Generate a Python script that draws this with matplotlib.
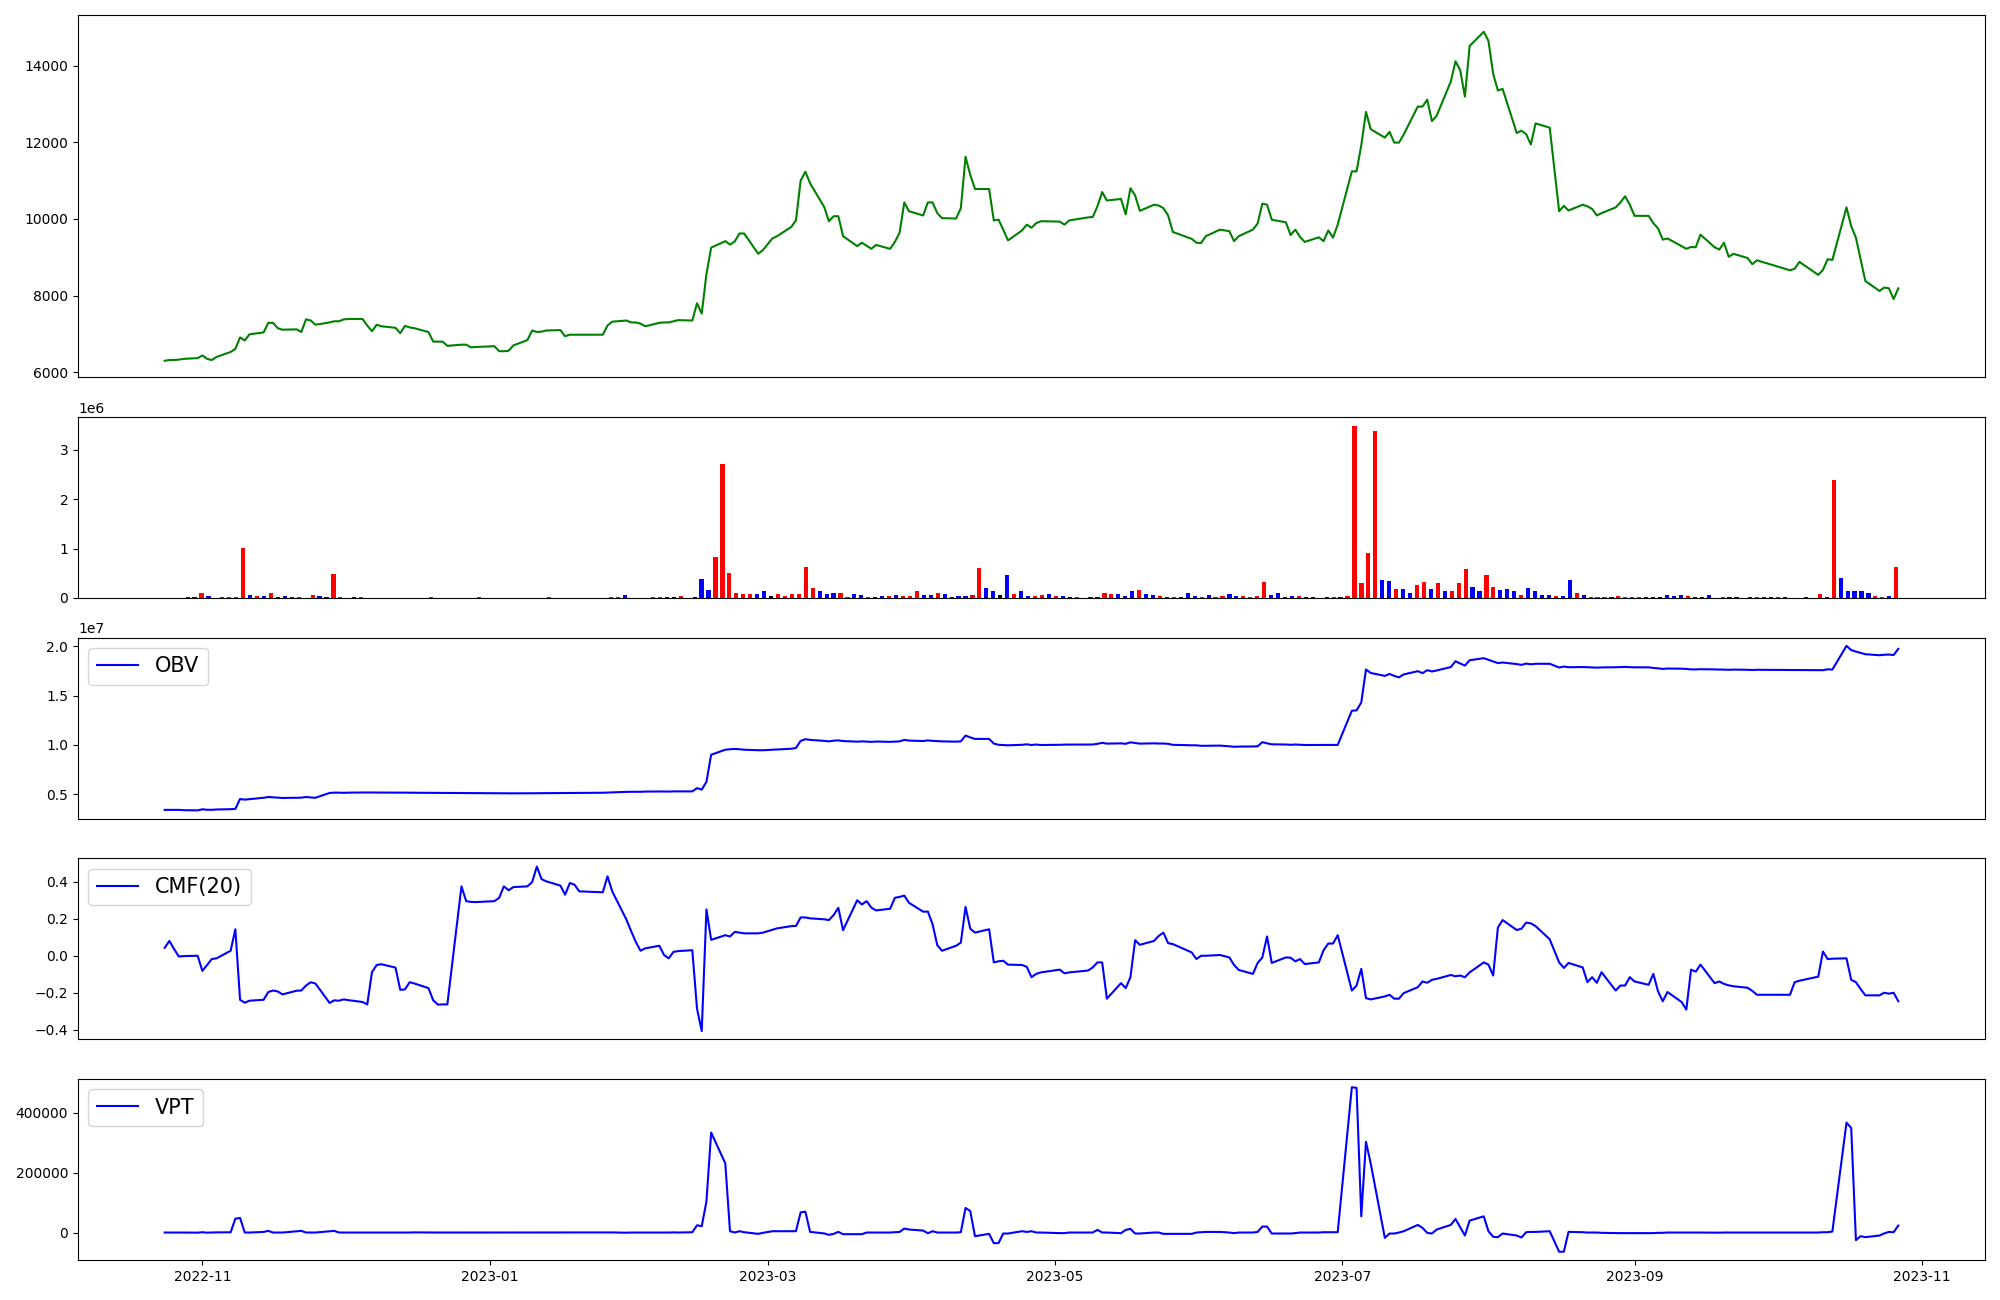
import numpy as np
import pandas as pd
import matplotlib
matplotlib.use("Agg")
import matplotlib.pyplot as plt

# Trading days (KRX calendar, Oct 2022 - Oct 2023)
holidays = ["2022-12-30", "2023-01-23", "2023-01-24", "2023-03-01", "2023-05-01",
            "2023-05-05", "2023-05-29", "2023-06-06", "2023-08-15", "2023-09-28",
            "2023-09-29", "2023-10-02", "2023-10-03", "2023-10-09"]
dates = pd.bdate_range("2022-10-24", "2023-10-27")
dates = dates[~dates.isin(pd.to_datetime(holidays))]

# Close price
close = [
    6300, 6320, 6320, 6330, 6350,
    6370, 6440, 6350, 6320, 6400,
    6530, 6610, 6910, 6830, 6990,
    7040, 7290, 7290, 7150, 7110,
    7120, 7050, 7380, 7350, 7240,
    7300, 7330, 7330, 7380, 7390,
    7390, 7220, 7070, 7240, 7200,
    7160, 7020, 7210, 7170, 7150,
    7050, 6800, 6800, 6800, 6690,
    6720, 6720, 6650, 6660,
    6680, 6550, 6550, 6560, 6700,
    6840, 7090, 7050, 7060, 7090,
    7100, 6940, 6980, 6980, 6980,
    6980, 7220, 7320,
    7350, 7300, 7300, 7270, 7200,
    7290, 7300, 7300, 7330, 7360,
    7350, 7800, 7530, 8560, 9250,
    9420, 9330, 9410, 9620, 9620,
    9090, 9190, 9490, 9550,
    9790, 9960, 11000, 11230, 10930,
    10310, 9940, 10070, 10070, 9550,
    9290, 9380, 9300, 9220, 9320,
    9220, 9400, 9640, 10430, 10200,
    10090, 10430, 10430, 10150, 10020,
    10010, 10280, 11620, 11150, 10780,
    10780, 9960, 9980, 9720, 9440,
    9700, 9850, 9770, 9890, 9940,
    9930, 9850, 9960,
    10040, 10050, 10330, 10700, 10480,
    10520, 10120, 10800, 10610, 10210,
    10370, 10350, 10280, 10090, 9660,
    9480, 9380, 9370, 9550,
    9720, 9680, 9420, 9550,
    9720, 9880, 10400, 10370, 9980,
    9910, 9580, 9720, 9530, 9400,
    9520, 9420, 9700, 9510, 9850,
    11240, 11240, 11920, 12790, 12340,
    12120, 12270, 11990, 11990, 12200,
    12930, 12930, 13110, 12550, 12690,
    13580, 14110, 13880, 13190, 14510,
    14880, 14640, 13780, 13350, 13390,
    12240, 12300, 12210, 11940, 12490,
    12380, 10200, 10340, 10220,
    10370, 10330, 10260, 10090, 10150,
    10300, 10430, 10590, 10370, 10080,
    10080, 9890, 9750, 9460, 9490,
    9290, 9220, 9270, 9260, 9590,
    9260, 9200, 9380, 9010, 9090,
    8980, 8820, 8920,
    8660, 8700, 8880,
    8540, 8670, 8950, 8930,
    10300, 9810, 9510, 8950, 8380,
    8120, 8210, 8190, 7910, 8190,
]

# Volume in millions of shares
volume_m = [
    0, 0, 0, 0, 0.027,
    0.027, 0.107, 0.047, 0, 0.027,
    0.027, 0.027, 1.01, 0.067, 0.047,
    0.047, 0.107, 0.027, 0.047, 0.027,
    0.027, 0, 0.067, 0.047, 0.027,
    0.49, 0.027, 0, 0.027, 0.027,
    0, 0, 0, 0, 0,
    0, 0, 0, 0, 0.027,
    0, 0, 0, 0, 0,
    0, 0.027, 0, 0,
    0, 0, 0, 0, 0,
    0, 0, 0.027, 0, 0,
    0, 0, 0, 0, 0,
    0, 0.027, 0.027,
    0.067, 0, 0, 0, 0.027,
    0.027, 0.027, 0.027, 0.047, 0,
    0.027, 0.39, 0.17, 0.83, 2.72,
    0.51, 0.107, 0.087, 0.087, 0.087,
    0.13, 0.047, 0.087, 0.047,
    0.087, 0.087, 0.63, 0.21, 0.13,
    0.087, 0.107, 0.107, 0.027, 0.087,
    0.067, 0.027, 0.027, 0.047, 0.047,
    0.067, 0.047, 0.047, 0.13, 0.067,
    0.067, 0.107, 0.087, 0.027, 0.047,
    0.047, 0.067, 0.61, 0.21, 0.15,
    0.067, 0.47, 0.087, 0.13, 0.047,
    0.047, 0.067, 0.087, 0.047, 0.047,
    0.027, 0.027, 0,
    0.027, 0.027, 0.107, 0.087, 0.087,
    0.047, 0.15, 0.17, 0.087, 0.067,
    0.047, 0.027, 0.027, 0.027, 0.107,
    0.047, 0.027, 0.067, 0.027,
    0.047, 0.087, 0.047, 0.047,
    0.027, 0.047, 0.33, 0.067, 0.107,
    0.027, 0.047, 0.047, 0.027, 0.027,
    0, 0.027, 0.027, 0.027, 0.047,
    3.49, 0.31, 0.91, 3.39, 0.37,
    0.35, 0.19, 0.19, 0.107, 0.27,
    0.33, 0.19, 0.31, 0.15, 0.13,
    0.31, 0.59, 0.23, 0.15, 0.47,
    0.23, 0.17, 0.19, 0.15, 0.067,
    0.21, 0.13, 0.067, 0.067, 0.047,
    0.047, 0.37, 0.107, 0.067,
    0.027, 0.027, 0.027, 0.027, 0.047,
    0.027, 0.027, 0.027, 0.027, 0.027,
    0.027, 0.067, 0.047, 0.067, 0.047,
    0.027, 0.027, 0.067, 0, 0.027,
    0.027, 0.027, 0, 0.027, 0.027,
    0.027, 0.027, 0.027,
    0.027, 0, 0,
    0.027, 0, 0.087, 0.027,
    2.38, 0.41, 0.15, 0.13, 0.15,
    0.107, 0.047, 0.027, 0.047, 0.63,
]

# Candle direction: 1 = up (red), -1 = down (blue), 0 = unchanged (black)
candle = [
    0, 0, 0, 0, -1,
    -1, 1, -1, 0, 1,
    1, 1, 1, -1, 1,
    -1, 1, -1, -1, -1,
    1, 0, 1, -1, -1,
    1, 1, 0, -1, 1,
    0, 0, 0, 0, 0,
    0, 0, 0, 0, 1,
    0, 0, 0, 0, 0,
    0, 1, 0, 0,
    0, 0, 0, 0, 0,
    0, 0, 1, 0, 0,
    0, 0, 0, 0, 0,
    0, 1, 1,
    -1, 0, 0, 0, 1,
    1, -1, 0, 1, 0,
    -1, -1, -1, 1, 1,
    1, 1, 1, 1, -1,
    -1, 0, 1, 1,
    1, 1, 1, 1, -1,
    -1, -1, 1, 1, -1,
    -1, 1, -1, -1, 1,
    -1, 1, 1, 1, -1,
    -1, 1, -1, -1, -1,
    -1, 1, 1, -1, -1,
    0, -1, 1, -1, -1,
    1, 1, -1, 1, -1,
    0, 1, 0,
    -1, -1, 1, 1, -1,
    -1, -1, 1, -1, -1,
    1, -1, 1, -1, -1,
    -1, 1, -1, 1,
    1, -1, -1, 1,
    1, 1, 1, -1, -1,
    -1, -1, 1, -1, -1,
    0, -1, 1, -1, 1,
    1, 1, 1, 1, -1,
    -1, 1, -1, -1, 1,
    1, -1, 1, -1, 1,
    1, 1, -1, -1, 1,
    1, -1, -1, -1, 1,
    -1, -1, -1, -1, 1,
    -1, -1, 1, -1,
    1, 1, 1, -1, 1,
    1, 1, 1, -1, -1,
    0, -1, -1, -1, 1,
    -1, -1, -1, 0, 1,
    -1, -1, 0, -1, 1,
    -1, -1, 1,
    -1, 0, 0,
    -1, 0, 1, -1,
    1, -1, -1, -1, -1,
    -1, 1, 1, -1, 1,
]

# On-balance volume (x 1e7)
obv_e7 = [
    0.339, 0.339, 0.339, 0.339, 0.336,
    0.334, 0.345, 0.340, 0.340, 0.343,
    0.346, 0.349, 0.450, 0.443, 0.448,
    0.462, 0.470, 0.467, 0.463, 0.460,
    0.463, 0.463, 0.470, 0.465, 0.462,
    0.511, 0.514, 0.514, 0.512, 0.514,
    0.516, 0.516, 0.515, 0.515, 0.515,
    0.514, 0.514, 0.514, 0.513, 0.513,
    0.512, 0.512, 0.511, 0.511, 0.510,
    0.510, 0.510, 0.509, 0.509,
    0.508, 0.508, 0.507, 0.507, 0.507,
    0.507, 0.508, 0.508, 0.509, 0.509,
    0.510, 0.510, 0.511, 0.511, 0.512,
    0.513, 0.515, 0.518,
    0.522, 0.523, 0.523, 0.523, 0.525,
    0.526, 0.525, 0.525, 0.527, 0.527,
    0.527, 0.560, 0.545, 0.624, 0.899,
    0.950, 0.955, 0.958, 0.955, 0.950,
    0.945, 0.945, 0.950, 0.953,
    0.960, 0.968, 1.040, 1.057, 1.050,
    1.040, 1.035, 1.042, 1.045, 1.038,
    1.032, 1.035, 1.033, 1.030, 1.033,
    1.030, 1.032, 1.035, 1.050, 1.043,
    1.038, 1.045, 1.040, 1.037, 1.035,
    1.032, 1.035, 1.094, 1.075, 1.060,
    1.060, 1.013, 1.000, 0.998, 0.995,
    1.000, 1.005, 0.998, 1.003, 0.998,
    1.000, 1.002, 1.002,
    1.002, 1.003, 1.010, 1.020, 1.012,
    1.015, 1.010, 1.025, 1.018, 1.012,
    1.015, 1.013, 1.013, 1.010, 1.000,
    0.995, 0.995, 0.990, 0.990,
    0.992, 0.985, 0.980, 0.982,
    0.983, 0.985, 1.027, 1.015, 1.005,
    1.003, 1.000, 1.003, 1.000, 0.998,
    0.998, 0.997, 0.998, 0.997, 0.999,
    1.346, 1.350, 1.430, 1.765, 1.730,
    1.700, 1.720, 1.700, 1.685, 1.715,
    1.748, 1.728, 1.758, 1.745, 1.755,
    1.790, 1.849, 1.826, 1.805, 1.859,
    1.880, 1.863, 1.845, 1.830, 1.836,
    1.820, 1.812, 1.825, 1.818, 1.823,
    1.823, 1.785, 1.795, 1.788,
    1.790, 1.788, 1.786, 1.784, 1.786,
    1.788, 1.790, 1.791, 1.789, 1.787,
    1.787, 1.781, 1.777, 1.771, 1.775,
    1.773, 1.771, 1.766, 1.766, 1.768,
    1.766, 1.764, 1.764, 1.762, 1.764,
    1.762, 1.760, 1.762,
    1.760, 1.760, 1.760,
    1.758, 1.758, 1.767, 1.764,
    2.005, 1.962, 1.947, 1.934, 1.920,
    1.910, 1.915, 1.917, 1.912, 1.975,
]

# Chaikin money flow (20)
cmf = [
    0.043, 0.080, 0.036, -0.004, -0.002,
    0.000, -0.082, -0.050, -0.018, -0.014,
    0.027, 0.143, -0.238, -0.254, -0.243,
    -0.238, -0.196, -0.188, -0.193, -0.209,
    -0.189, -0.188, -0.161, -0.143, -0.150,
    -0.255, -0.241, -0.243, -0.236, -0.240,
    -0.250, -0.263, -0.089, -0.050, -0.046,
    -0.064, -0.184, -0.182, -0.143, -0.150,
    -0.175, -0.241, -0.264, -0.263, -0.263,
    0.375, 0.295, 0.291, 0.290,
    0.295, 0.313, 0.375, 0.354, 0.371,
    0.375, 0.398, 0.482, 0.414, 0.402,
    0.379, 0.330, 0.393, 0.384, 0.348,
    0.343, 0.429, 0.348,
    0.196, 0.134, 0.075, 0.027, 0.040,
    0.054, 0.004, -0.014, 0.021, 0.025,
    0.030, -0.286, -0.407, 0.250, 0.086,
    0.111, 0.104, 0.129, 0.125, 0.121,
    0.121, 0.125, 0.140, 0.148,
    0.160, 0.161, 0.207, 0.207, 0.202,
    0.197, 0.193, 0.220, 0.259, 0.138,
    0.300, 0.277, 0.295, 0.260, 0.245,
    0.254, 0.313, 0.318, 0.325, 0.286,
    0.238, 0.239, 0.170, 0.057, 0.027,
    0.054, 0.071, 0.264, 0.146, 0.125,
    0.143, -0.036, -0.030, -0.027, -0.048,
    -0.050, -0.060, -0.116, -0.098, -0.090,
    -0.075, -0.095, -0.090,
    -0.080, -0.063, -0.036, -0.036, -0.232,
    -0.148, -0.175, -0.116, 0.084, 0.059,
    0.080, 0.107, 0.125, 0.068, 0.063,
    0.018, -0.018, 0.000, 0.000,
    0.004, -0.009, -0.050, -0.077,
    -0.098, -0.039, -0.009, 0.104, -0.039,
    -0.009, -0.011, -0.030, -0.018, -0.045,
    -0.036, 0.030, 0.066, 0.066, 0.111,
    -0.188, -0.161, -0.071, -0.229, -0.236,
    -0.220, -0.211, -0.232, -0.232, -0.202,
    -0.170, -0.139, -0.146, -0.130, -0.125,
    -0.104, -0.111, -0.107, -0.116, -0.090,
    -0.036, -0.048, -0.107, 0.152, 0.193,
    0.139, 0.146, 0.179, 0.175, 0.160,
    0.089, -0.036, -0.066, -0.039,
    -0.063, -0.143, -0.116, -0.146, -0.089,
    -0.188, -0.161, -0.161, -0.116, -0.139,
    -0.157, -0.098, -0.193, -0.246, -0.196,
    -0.250, -0.291, -0.075, -0.086, -0.048,
    -0.148, -0.139, -0.152, -0.160, -0.165,
    -0.173, -0.190, -0.211,
    -0.211, -0.143, -0.135,
    -0.113, 0.023, -0.018, -0.016,
    -0.014, -0.130, -0.143, -0.180, -0.214,
    -0.214, -0.200, -0.205, -0.200, -0.246,
]

# Volume price trend
vpt = [
    0, 0, 0, 0, 0,
    -500, 1000, -500, 0, 500,
    800, 46400, 48600, 0, 0,
    2000, 5500, 0, 0, 0,
    4000, 5500, 0, 0, 0,
    4400, 5500, 0, 0, 0,
    0, 0, 0, 0, 0,
    0, 0, 0, 0, 500,
    0, 0, 0, 0, 0,
    0, 300, 0, 0,
    0, 0, 0, 0, 0,
    0, 0, 300, 0, 0,
    0, 0, 0, 0, 0,
    0, 300, 300,
    -600, 0, 0, 0, 300,
    300, -300, 0, 500, 0,
    1000, 24300, 21000, 103900, 333700,
    231000, 4400, 0, 4400, 1000,
    -4400, -1000, 4400, 4400,
    4400, 4400, 67400, 69600, 2200,
    -3000, -7700, -4400, 2200, -5500,
    -5500, -5500, 0, 0, 0,
    0, 1100, 2000, 13300, 10000,
    6600, -2200, 4400, 0, 0,
    0, 1100, 81800, 71800, -12200,
    -4400, -35400, -35400, -3300, -3300,
    4400, 2000, 4400, 0, 0,
    -2000, -2000, 0,
    0, 0, 8800, 0, 0,
    -2200, 8800, 12200, -3300, -3300,
    0, 0, -4400, -4400, -4400,
    -4400, 0, 1000, 2000,
    2000, 0, -2000, 0,
    0, 2000, 19900, 19900, -3300,
    -3300, -3300, -2000, 0, 0,
    0, 1000, 1000, 1000, 1000,
    485000, 483000, 54100, 302800, 231000,
    -17700, -3300, -3300, 0, 4400,
    25400, 15500, -1100, -3300, 10000,
    25400, 45300, 18000, -9900, 39800,
    54100, 4400, -14400, -15500, -3300,
    -10000, -16600, 1100, 2000, 2000,
    4400, -64100, -64100, 2200,
    1000, 0, 0, 0, -1000,
    -2000, -2000, -2000, -2000, -2000,
    -2000, -2000, -1000, -1000, 0,
    0, 0, 0, 0, 0,
    -500, -500, 0, 0, 0,
    0, 0, 0,
    0, 0, 0,
    0, 1000, 1000, 3300,
    366900, 349000, -25400, -12200, -15500,
    -10000, -3000, 2000, 1000, 23000,
]

volume = np.array(volume_m) * 1e6
obv = np.array(obv_e7) * 1e7
bar_colors = [{1: "red", -1: "blue", 0: "black"}[c] for c in candle]

# volume bars start from the second session and are drawn on a plain index axis
vol_bars = volume[1:]
vol_colors = bar_colors[1:]
x_idx = np.arange(len(vol_bars))

fig = plt.figure(figsize=(20, 13), dpi=100)
gs = fig.add_gridspec(5, 1, height_ratios=[2, 1, 1, 1, 1],
                      left=0.039, right=0.9925, top=0.9882, bottom=0.0308,
                      hspace=0.183)

ax1 = fig.add_subplot(gs[0])
ax1.plot(dates, close, color="green")
ax1.set_xticks([])

ax2 = fig.add_subplot(gs[1])
ax2.bar(x_idx, vol_bars, color=vol_colors, width=0.6)
ax2.set_xticks([])

ax3 = fig.add_subplot(gs[2])
ax3.plot(dates, obv, color="blue", label="OBV")
ax3.legend(loc="upper left", fontsize=15)
ax3.set_xticks([])

ax4 = fig.add_subplot(gs[3])
ax4.plot(dates, cmf, color="blue", label="CMF(20)")
ax4.legend(loc="upper left", fontsize=15)
ax4.set_xticks([])

ax5 = fig.add_subplot(gs[4])
ax5.plot(dates, vpt, color="blue", label="VPT")
ax5.legend(loc="upper left", fontsize=15)

plt.savefig("out.png", dpi=100)
